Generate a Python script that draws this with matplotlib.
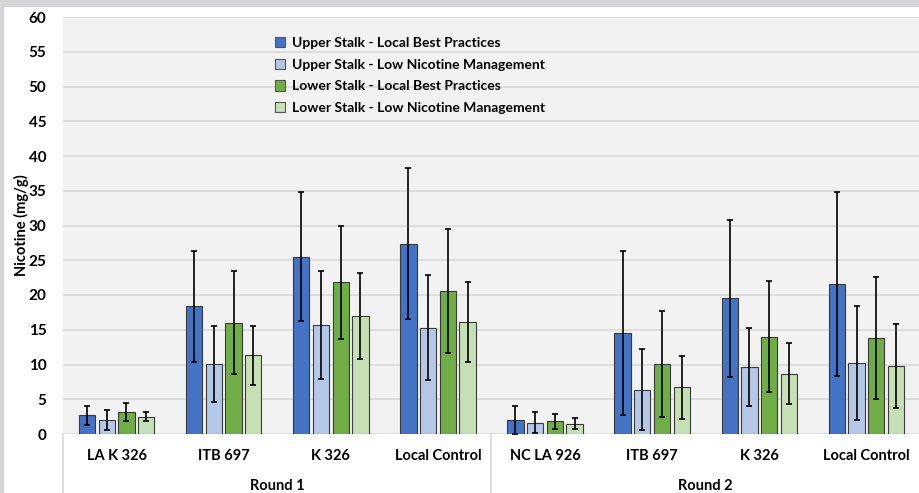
import matplotlib.pyplot as plt
import numpy as np
from matplotlib.patches import Rectangle
import matplotlib.transforms as mtransforms

plt.rcParams['font.family'] = ['Lato', 'DejaVu Sans']
plt.rcParams['font.weight'] = 'bold'

categories = ['LA K 326', 'ITB 697', 'K 326', 'Local Control',
              'NC LA 926', 'ITB 697', 'K 326', 'Local Control']
rounds = ['Round 1', 'Round 2']
series = ['Upper Stalk - Local Best Practices',
          'Upper Stalk - Low Nicotine Management',
          'Lower Stalk - Local Best Practices',
          'Lower Stalk - Low Nicotine Management']
colors = ['#4472C4', '#B4C7E7', '#70AD47', '#C5E0B4']

# mean values per series (one per category)
upper_lbp = [2.7, 18.4, 25.5, 27.4, 2.0, 14.5, 19.5, 21.6]
upper_lnm = [2.0, 10.1, 15.7, 15.3, 1.6, 6.4, 9.7, 10.2]
lower_lbp = [3.1, 16.0, 21.8, 20.6, 1.8, 10.1, 14.0, 13.8]
lower_lnm = [2.5, 11.3, 17.0, 16.1, 1.5, 6.7, 8.7, 9.8]
# error bar half-widths
upper_lbp_err = [1.4, 8.0, 9.3, 10.9, 2.0, 11.8, 11.3, 13.2]
upper_lnm_err = [1.4, 5.5, 7.8, 7.6, 1.5, 5.8, 5.6, 8.2]
lower_lbp_err = [1.3, 7.4, 8.1, 8.9, 1.1, 7.6, 8.0, 8.8]
lower_lnm_err = [0.7, 4.3, 6.2, 5.7, 0.8, 4.5, 4.4, 6.0]

values = [upper_lbp, upper_lnm, lower_lbp, lower_lnm]
errors = [upper_lbp_err, upper_lnm_err, lower_lbp_err, lower_lnm_err]

fig = plt.figure(figsize=(9.2, 4.93), dpi=100)
fig.patch.set_facecolor('white')
# grey frame pieces at the top and left
fig.patches.append(Rectangle((0, 1 - 6 / 493), 1, 6 / 493, transform=fig.transFigure,
                             color='#d4d4d6', zorder=0))
fig.patches.append(Rectangle((0, 0), 3 / 920, 1, transform=fig.transFigure,
                             color='#d4d4d6', zorder=0))

ax = fig.add_axes([63 / 920, (493 - 434) / 493, (920 - 63) / 920, (434 - 17) / 493])
ax.set_facecolor('#f2f2f2')

x = np.arange(len(categories))
width = 0.152
step = 0.184
for i in range(4):
    ax.bar(x + (i - 1.5) * step, values[i], width, color=colors[i],
           edgecolor='#3a3a3a', linewidth=0.8, label=series[i], zorder=3,
           yerr=errors[i], error_kw=dict(ecolor='black', elinewidth=1.2,
                                         capsize=2.2, capthick=1.2, zorder=4))

ax.set_ylim(0, 60)
ax.set_xlim(-0.5, 7.5)
ax.set_yticks(np.arange(0, 61, 5))
ax.yaxis.grid(True, color='#d9d9d9', linewidth=1.2, zorder=0)
ax.set_axisbelow(True)
for s in ax.spines.values():
    s.set_visible(False)
ax.tick_params(axis='y', length=0, labelsize=11, pad=12)
ax.tick_params(axis='x', length=0, labelsize=10.5, pad=11)
ax.set_xticks(x)
ax.set_xticklabels(categories, fontweight='bold')
for lab in ax.get_yticklabels():
    lab.set_fontweight('bold')
ax.set_ylabel('Nicotine (mg/g)', fontsize=10.5, fontweight='bold', va='center')
ax.yaxis.set_label_coords(-42 / 857, 0.5)

trans = mtransforms.blended_transform_factory(ax.transData, ax.transAxes)
for xs in [-0.5, 3.5, 7.5]:
    ax.plot([xs, xs], [0, -59 / 417], color='#d9d9d9', linewidth=1.2,
            transform=trans, clip_on=False)
ax.text(1.5, -52 / 417, rounds[0], transform=trans, ha='center', va='center',
        fontsize=10.5, fontweight='bold')
ax.text(5.5, -52 / 417, rounds[1], transform=trans, ha='center', va='center',
        fontsize=10.5, fontweight='bold')

leg = fig.legend(loc='upper left', bbox_to_anchor=(268 / 920, 1 - 30 / 493),
                 frameon=False, fontsize=10, handlelength=0.75, handleheight=0.75,
                 handletextpad=0.45, labelspacing=0.7, borderpad=0)
for h in leg.legend_handles:
    h.set_edgecolor('#555555')
for t in leg.get_texts():
    t.set_fontweight('bold')

fig.savefig('out.png', dpi=100)
